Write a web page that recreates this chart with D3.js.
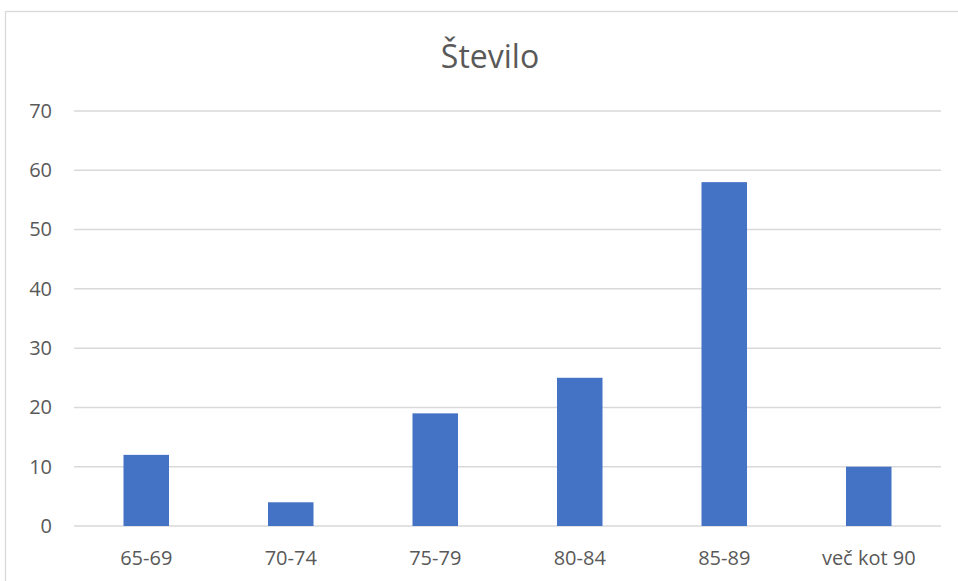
<!DOCTYPE html>
<html>
<head>
<meta charset="utf-8">
<script src="https://cdn.jsdelivr.net/npm/d3@7"></script>
<style>
  html, body { margin: 0; padding: 0; background: #fff; }
  svg { display: block; }
</style>
</head>
<body>
<svg id="chart" width="958" height="581"></svg>
<script>
// Bar chart: Število po starostnih skupinah
const categories = ['65-69', '70-74', '75-79', '80-84', '85-89', 'več kot 90'];
const values = [12, 4, 19, 25, 58, 10];
const yTicks = [0, 10, 20, 30, 40, 50, 60, 70];

const svg = d3.select('#chart');
const W = 958, H = 581;
const m = { top: 111, right: 17, bottom: 55, left: 74 };
const font = '"Open Sans", "Noto Sans", sans-serif';
const textColor = '#595959';

// chart frame (runs off right and bottom edges)
svg.append('rect')
  .attr('x', 5.5).attr('y', 11.5)
  .attr('width', 980).attr('height', 620)
  .attr('fill', '#fff')
  .attr('stroke', '#d9d9d9')
  .attr('stroke-width', 1.3);

const x = d3.scaleBand()
  .domain(categories)
  .range([m.left, W - m.right])
  .paddingInner(0.685)
  .paddingOuter(0.3425);

const y = d3.scaleLinear()
  .domain([0, 70])
  .range([H - m.bottom, m.top]);

// gridlines
svg.append('g')
  .selectAll('line')
  .data(yTicks)
  .enter()
  .append('line')
  .attr('x1', m.left).attr('x2', W - m.right)
  .attr('y1', d => y(d)).attr('y2', d => y(d))
  .attr('stroke', '#d9d9d9')
  .attr('stroke-width', 1.5);

// bars
svg.append('g')
  .selectAll('rect')
  .data(values)
  .enter()
  .append('rect')
  .attr('x', (d, i) => x(categories[i]))
  .attr('y', d => y(d))
  .attr('width', x.bandwidth())
  .attr('height', d => y(0) - y(d))
  .attr('fill', '#4472c4');

// y axis labels
const yAxis = svg.append('g')
  .attr('transform', `translate(${m.left - 22},0)`)
  .call(d3.axisLeft(y).tickValues(yTicks).tickSize(0).tickPadding(0));
yAxis.select('.domain').remove();
yAxis.selectAll('text')
  .attr('font-family', font)
  .attr('font-size', 20)
  .attr('fill', textColor);

// x axis labels
const xAxis = svg.append('g')
  .attr('transform', `translate(0,${y(0)})`)
  .call(d3.axisBottom(x).tickSize(0).tickPadding(25));
xAxis.select('.domain').remove();
xAxis.selectAll('text')
  .attr('font-family', font)
  .attr('font-size', 20)
  .attr('fill', textColor);

// title
svg.append('text')
  .attr('x', 490).attr('y', 68)
  .attr('text-anchor', 'middle')
  .attr('font-family', font)
  .attr('font-size', 32)
  .attr('fill', textColor)
  .text('Število');
</script>
</body>
</html>
